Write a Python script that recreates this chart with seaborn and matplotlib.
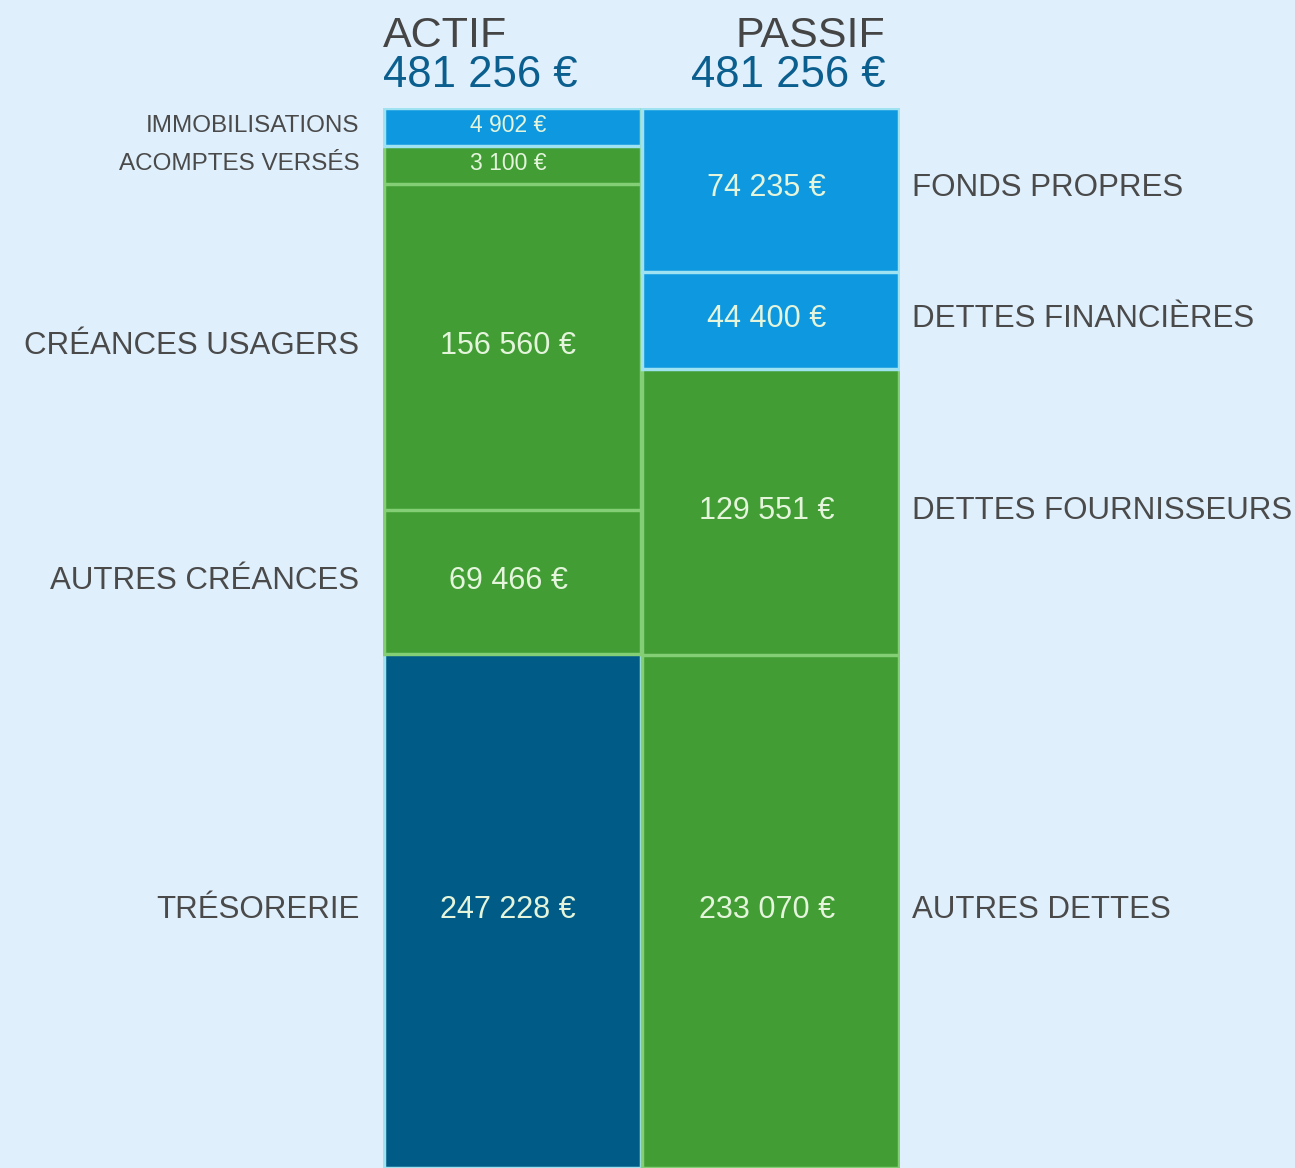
import matplotlib.pyplot as plt
import seaborn as sns
import numpy as np

sns.set_theme(style="white")
plt.rcParams["font.family"] = ["Liberation Sans", "DejaVu Sans"]

# data
columns = ["ACTIF", "PASSIF"]
actif_labels = ["IMMOBILISATIONS", "ACOMPTES VERSÉS", "CRÉANCES USAGERS", "AUTRES CRÉANCES", "TRÉSORERIE"]
actif_values = [4902, 3100, 156560, 69466, 247228]
passif_labels = ["FONDS PROPRES", "DETTES FINANCIÈRES", "DETTES FOURNISSEURS", "AUTRES DETTES"]
passif_values = [74235, 44400, 129551, 233070]

BG = "#dfeffc"
GREEN = "#419d34"
BLUE = "#0d98e0"
DARK = "#005b86"
actif_colors = [BLUE, GREEN, GREEN, GREEN, DARK]
passif_colors = [BLUE, BLUE, GREEN, GREEN]
EDGE = {GREEN: "#84cf76", BLUE: "#9fe2f2", DARK: "#9fe2f2"}

MIN_SHARE = 0.036  # small segments get a minimum visible height


def fmt(v):
    return f"{v:,}".replace(",", " ") + " €"


def display_heights(values):
    v = np.array(values, dtype=float)
    total = v.sum()
    small = v < MIN_SHARE * total
    big_sum = v[~small].sum()
    k = (total - small.sum() * MIN_SHARE * total) / big_sum
    return np.where(small, MIN_SHARE * total, v * k)


fig = plt.figure(figsize=(12.95, 11.68), dpi=100, facecolor=BG)
ax = fig.add_axes([383 / 1295, 0, 517 / 1295, 1060 / 1168])
ax.set_facecolor(BG)

for col, labels, values, colors, side in [
    ("ACTIF", actif_labels, actif_values, actif_colors, "left"),
    ("PASSIF", passif_labels, passif_values, passif_colors, "right"),
]:
    heights = display_heights(values)
    cum = np.cumsum(heights)
    small_font = [v < MIN_SHARE * sum(values) for v in values]
    # draw from the longest cumulative bar to the shortest so each segment shows
    for i in range(len(values) - 1, -1, -1):
        sns.barplot(x=[col], y=[cum[i]], order=columns, color=colors[i],
                    width=0.995, edgecolor=EDGE[colors[i]], linewidth=2.5,
                    saturation=1, ax=ax)
    xi = columns.index(col)
    for i, (lab, v) in enumerate(zip(labels, values)):
        mid = cum[i] - heights[i] / 2
        fs = 16.5 if small_font[i] else 22
        ax.annotate(fmt(v), xy=(xi, mid), xytext=(-3, 1), textcoords="offset points",
                    ha="center", va="center", fontsize=fs, color="#e4f5dc")
        if side == "left":
            ax.annotate(lab, xy=(-0.5, mid), xytext=(-17, 1), textcoords="offset points",
                        ha="right", va="center", fontsize=17.5 if small_font[i] else 22.5,
                        color="#4a4a4a")
        else:
            ax.annotate(lab, xy=(1.5, mid), xytext=(9, 1), textcoords="offset points",
                        ha="left", va="center", fontsize=22.5, color="#4a4a4a")

total = sum(actif_values)
ax.set_ylim(total, 0)
ax.set_xlim(-0.5, 1.5)
ax.set_xlabel("")
ax.set_ylabel("")
ax.set_xticks([])
ax.set_yticks([])
sns.despine(ax=ax, left=True, bottom=True)

# headers
ax.text(0.0, 1.058, "ACTIF", transform=ax.transAxes, ha="left", va="baseline",
        fontsize=31, color="#454545")
ax.text(0.0, 1.020, fmt(sum(actif_values)), transform=ax.transAxes, ha="left",
        va="baseline", fontsize=31.5, color="#0b5f8f")
ax.text(0.972, 1.058, "PASSIF", transform=ax.transAxes, ha="right", va="baseline",
        fontsize=31, color="#454545")
ax.text(0.972, 1.020, fmt(sum(passif_values)), transform=ax.transAxes, ha="right",
        va="baseline", fontsize=31.5, color="#0b5f8f")

fig.savefig("out.png", dpi=100, facecolor=BG)
